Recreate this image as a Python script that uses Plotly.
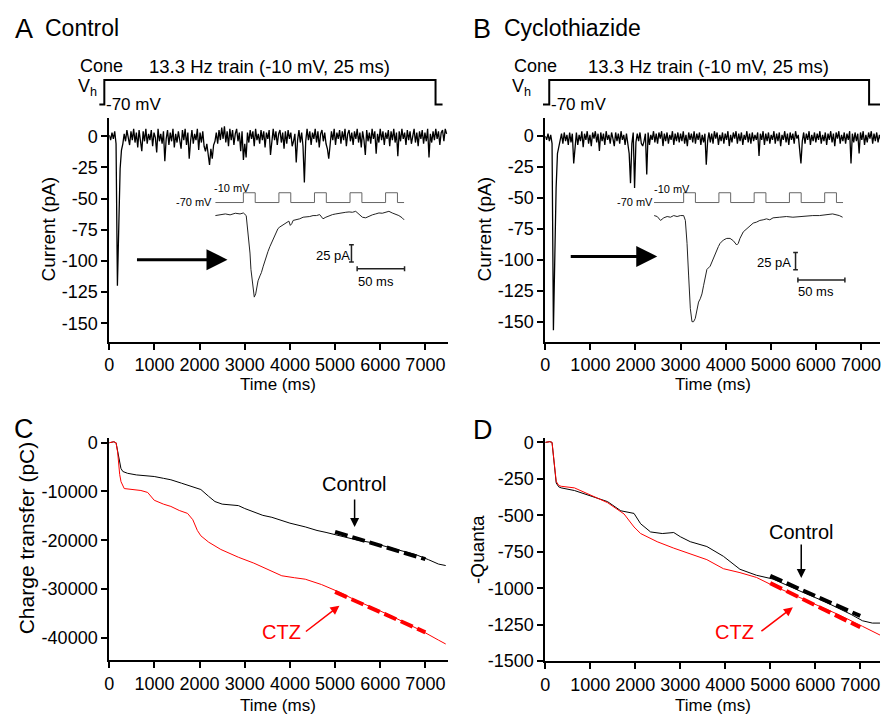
import plotly.graph_objects as go

W, H = 881, 726
FONT = "Liberation Sans, Arial, sans-serif"
RED = "#ff0000"

# ---------------- data ----------------
# A / B : current during the whole train (pA), one sample every 30 ms
dt_ms = 30
cur_ctrl = [1, -3, 3, -2, 4, -6, -120, -62, -26, -11,
            -6, 2, -4, 5, -1, -7, 4, -3, 6, -5,
            3, -9, 5, -2, -12, 4, -4, 6, -6, 2,
            -3, 5, -8, 3, -1, -13, 6, -4, 2, -6,
            4, -20, -2, 5, -7, 3, -4, 6, -9, 2,
            -5, 4, -2, -10, 5, -3, 6, -7, 3, -18,
            -4, 5, -6, 2, -3, 6, -11, 3, -5, 4,
            -8, -12, -6, -15, -23, -10, -18, -7, -4, 3,
            -6, 5, -3, 7, -2, 8, -5, 4, -8, 6,
            -3, 5, -7, 2, 6, -4, 3, -12, 4, -19,
            -6, -17, 3, -5, 5, -2, 4, -8, 6, -3,
            2, -6, 5, -3, 4, -9, 3, -2, 5, -15,
            -4, 6, -3, 4, -7, 2, 5, -5, 3, -10,
            4, -6, 5, -2, 3, -8, -4, 2, -21, -3,
            5, -5, 3, -8, -37, -4, 6, -3, 4, -7,
            3, -2, 6, -5, 4, -9, 2, 5, -4, 3,
            -6, -10, -18, -5, 4, -3, 6, -7, 3, -2,
            5, -6, 4, -3, 6, -8, 2, 5, -4, 3,
            -7, 4, -2, 6, -5, 3, -9, 4, -3, -15,
            5, -4, 3, -6, 6, -2, 4, -14, 2, -5,
            6, -3, 4, -7, 3, -2, 5, -8, 4, -3,
            6, -5, 3, -16, 4, -4, 6, -2, 3, -7,
            5, -3, 4, -6, 2, 6, -5, 3, -8, 4,
            -2, 5, -6, 3, -4, 6, -17, 2, -5, 4,
            -3, 6, -2, 4, -7, 3, 5, -4, 6, 2]
cur_ctz = [0, -3, 2, -4, 1, -6, -157, -95, -42, -14,
           -8, -5, 2, -6, 3, -4, 1, -7, 3, -5,
           2, -22, -5, 3, -7, 1, -4, 4, -9, 2,
           -3, 4, -6, 1, -8, 3, -2, 4, -5, 2,
           -12, 3, -4, 2, -7, 4, -3, 1, -6, 3,
           -2, -8, 3, -4, 2, -6, 4, -3, 1, -7,
           2, -5, -14, -38, -6, 3, -42, -5, 2, -4,
           3, -6, -8, -4, 2, -31, 3, -7, 1, -3,
           4, -5, 2, -6, 3, -2, 4, -8, 2, -4,
           3, -6, 1, -3, 4, -7, 2, -4, 3, -5,
           2, -4, 4, -6, 1, -8, 3, -3, 2, -5,
           4, -6, 2, -3, 3, -7, 1, -5, 2, -23,
           -4, 3, -5, 2, -6, 4, -2, 3, -7, 1,
           -4, 3, -6, 2, -3, 4, -8, 1, -5, 3,
           -2, 4, -6, 2, -4, 3, -7, 1, -3, 4,
           -5, 2, -6, 3, -4, 1, -3, 3, -16, 2,
           -3, 4, -7, 2, -4, 3, -6, 1, -3, 4,
           -6, 2, -4, 3, -8, 1, -3, 4, -5, 2,
           -7, 3, -3, 2, -6, 4, -2, 1, -8, -22,
           -4, 3, -6, 2, -3, 4, -7, 1, -4, 3,
           -5, 2, -3, 4, -6, 1, -4, 3, -7, 2,
           -3, 4, -5, 2, -8, 3, -2, 4, -6, 1,
           -4, 3, -6, 2, -3, 4, -22, 2, -5, 3,
           -4, 2, -14, 3, -3, 4, -7, 1, -5, 3,
           -2, 4, -6, 2, -4, 3, -5, 1, -3, 2]
t_ctrl = [i * dt_ms for i in range(len(cur_ctrl))]
t_ctz = [i * dt_ms for i in range(len(cur_ctz))]

# cone holding potential protocol (mV)
proto_mv = [-70, -70, -10, -10, -70, -70]
proto_t_A = [-220, -110, -110, 7225, 7225, 7380]
proto_t_B = [-51, 88, 88, 7181, 7181, 7423]

# insets: first pulses of the train (ms) and the current they evoke (pA)
pulse_mv = [-70, -70, -10, -10, -70, -70, -10, -10, -70, -70, -10,
            -10, -70, -70, -10, -10, -70, -70, -10, -10, -70, -70]
pulse_t_A = [-59, 0, 0, 25, 25, 75, 75, 100, 100, 150, 150,
             175, 175, 225, 225, 250, 250, 300, 300, 325, 325, 339]
pulse_t_B = [-63, 0, 0, 25, 25, 75, 75, 100, 100, 150, 150,
             175, 175, 225, 225, 250, 250, 300, 300, 325, 325, 339]

insA_t = [-59, -49, -38, -28, -17, -7, 0, 6, 8, 11, 14, 16, 19, 21, 23, 26, 28, 31,
          35, 38, 42, 45, 49, 52, 56, 59, 63, 66, 70, 73, 77, 84, 91, 96, 99, 102,
          105, 112, 119, 126, 133, 140, 147, 154, 161, 168, 174, 181, 188, 195, 202,
          209, 216, 223, 230, 237, 244, 251, 258, 265, 272, 279, 286, 293, 300, 307,
          314, 321, 328, 335, 339]
insA_pa = [-2.4, -1, 0, -1.4, 1, 0, 1.4, -2.4, -14.3, -33.3, -57.1, -81, -102.4,
           -116.6, -121.4, -116.6, -107, -97.6, -90.4, -85.7, -76.2, -69, -62.8,
           -54.7, -47.6, -42.8, -38, -31, -26.2, -21.4, -19, -15.7, -13.3, -10.5,
           -16.7, -14.3, -9.5, -8.6, -7.1, -4.8, -4.8, -3.8, -2.4, -2.4, -1, -7.1,
           -4.8, -2.4, -1, 0, 1, 1.4, 2.4, 2.9, 2.4, 3.8, 0, -4.8, -5.7, -3.3, -1.4,
           0, 1.4, 1, 2.4, 3.8, 1.4, 0, -2.4, -5.7, -8.6]
insB_t = [-62.7, -56.2, -49.2, -42.3, -35.1, -28.1, -21.1, -13.9, -7, 0, 3.6, 7.2,
          10.6, 14.2, 17.7, 21.1, 24.7, 28.3, 31.7, 35.3, 38.9, 42.3, 45.8, 49.4,
          56.4, 63.4, 67, 70.6, 73.9, 77.5, 81.1, 84.5, 91.7, 98.7, 105.6, 109.2,
          112.8, 116.2, 119.8, 126.8, 134, 140.9, 147.9, 155.1, 162.1, 169.1, 176.2,
          183.2, 190.2, 204.3, 218.5, 232.4, 246.6, 260.7, 274.7, 288.8, 302.9,
          316.9, 331.1, 338.1]
insB_pa = [0, -1.4, -7.1, -3.3, -1.4, -2.4, 0, -1.4, 0, 0, -7.1, -40.5, -88.1,
           -135.7, -154.8, -154.8, -150, -135.7, -126.2, -121.4, -114.3, -102.4,
           -88.1, -78.6, -73.8, -61.9, -54.8, -50, -45.2, -40.5, -38.1, -35.7, -33.3,
           -33.3, -36.7, -40.5, -42.9, -40.5, -33.3, -23.8, -19, -14.3, -11, -9.5,
           -7.1, -6.2, -4.8, -6.2, -3.3, -2.4, -1.4, -2.4, -1.4, 0, 0, 0, 1.4, 2.4,
           0, -2.4]

# C : cumulative charge transfer (pC)
qC_t_ctrl = [0, 100, 150, 180, 220, 258, 300, 405, 600, 800, 995, 1200, 1364, 1600,
             1800, 2028, 2200, 2340, 2500, 2700, 2860, 3000, 3230, 3400, 3600, 3800,
             4000, 4340, 4600, 4800, 5080, 5300, 5500, 5810, 6100, 6300, 6550, 6800,
             7070, 7290, 7450]
qC_ctrl = [0, 200, 0, -1500, -4000, -5270, -5900, -6270, -6600, -6800, -6930, -7300,
           -7600, -8300, -8900, -9600, -11000, -12070, -12600, -12800, -12900, -13500,
           -14400, -14900, -15300, -15900, -16500, -17270, -18000, -18400, -19100,
           -19600, -20000, -20500, -21200, -21800, -22300, -23000, -24000, -24900,
           -25200]
qC_t_ctz = [0, 100, 150, 185, 230, 260, 331, 500, 700, 850, 995, 1200, 1364, 1550,
            1733, 1850, 1950, 2028, 2200, 2470, 2860, 3200, 3600, 3820, 4100, 4340,
            4700, 5080, 5450, 5800, 6190, 6500, 6920, 7290, 7450]
qC_ctz = [0, 200, 0, -1930, -6500, -8000, -9400, -9600, -9800, -10200, -11800,
          -12600, -13070, -13900, -14500, -15800, -18000, -19100, -20400, -21900,
          -23500, -24700, -26400, -27300, -27700, -28000, -29100, -30600, -32300,
          -33700, -35300, -36700, -38600, -40500, -41300]

# D : cumulative quanta (negative)
qD_t_ctrl = [0, 100, 150, 206, 243, 300, 353, 648, 1015, 1383, 1678, 1972, 2119,
             2340, 2600, 2855, 3002, 3223, 3591, 3959, 4327, 4694, 5062, 5400, 5798,
             6200, 6534, 6800, 7050, 7270, 7440]
qD_ctrl = [0, 5, 0, -156, -279, -305, -312, -330, -368, -406, -469, -487, -558, -614,
           -625, -618, -647, -681, -714, -781, -870, -911, -937, -985, -1038, -1090,
           -1138, -1180, -1223, -1239, -1239]
qD_t_ctz = [0, 100, 150, 200, 243, 300, 353, 648, 1015, 1383, 1751, 1972, 2119, 2487,
            2855, 3591, 3959, 4327, 4694, 5062, 5798, 6534, 7050, 7440]
qD_ctz = [0, 5, 0, -140, -268, -295, -301, -312, -360, -413, -491, -580, -625, -681,
          -725, -804, -866, -893, -926, -982, -1083, -1183, -1261, -1321]

# linear fits, 5000-7000 ms
fit_t = [5000, 7000]
fitC_ctrl = [-18300, -23900]
fitC_ctz = [-30600, -38900]
fitD_ctrl = [-915, -1190]
fitD_ctz = [-965, -1268]

time_ticks = [0, 1000, 2000, 3000, 4000, 5000, 6000, 7000]
cur_ticks = [0, -25, -50, -75, -100, -125, -150]
charge_ticks = [0, -10000, -20000, -30000, -40000]
quanta_ticks = [0, -250, -500, -750, -1000, -1250, -1500]

# scale bars of the insets (bar lengths in inset units)
bar_pa = 25
bar_t = 100


def px(x):
    return x / W


def py(y):
    return 1 - y / H


def scalebar(t0, pa_top, t_h, pa_h):
    xs = [t0 - 5, t0 + 5, None, t0, t0, None, t0 - 5, t0 + 5, None,
          t_h, t_h + bar_t, None, t_h, t_h, None, t_h + bar_t, t_h + bar_t]
    ys = [pa_top, pa_top, None, pa_top, pa_top - bar_pa, None,
          pa_top - bar_pa, pa_top - bar_pa, None,
          pa_h, pa_h, None, pa_h + 3.5, pa_h - 3.5, None, pa_h + 3.5, pa_h - 3.5]
    return xs, ys


fig = go.Figure()

def line(x, y, xa, ya, color="black", width=1, dash=None):
    fig.add_trace(go.Scatter(x=x, y=y, xaxis=xa, yaxis=ya, mode="lines",
                             line=dict(color=color, width=width, dash=dash),
                             hoverinfo="skip", showlegend=False))

# A, B main traces
line(t_ctrl, cur_ctrl, "x", "y", width=1.3)
line(t_ctz, cur_ctz, "x2", "y2", width=1.3)
# C
line(qC_t_ctrl, qC_ctrl, "x3", "y3")
line(qC_t_ctz, qC_ctz, "x3", "y3", color=RED)
line(fit_t, fitC_ctrl, "x3", "y3", width=4, dash="13px,5px")
line(fit_t, fitC_ctz, "x3", "y3", color=RED, width=4, dash="13px,5px")
# D
line(qD_t_ctrl, qD_ctrl, "x4", "y4")
line(qD_t_ctz, qD_ctz, "x4", "y4", color=RED)
line(fit_t, fitD_ctrl, "x4", "y4", width=4, dash="13px,5px")
line(fit_t, fitD_ctz, "x4", "y4", color=RED, width=4, dash="13px,5px")
# voltage protocols
line(proto_t_A, proto_mv, "x5", "y5", width=2)
line(proto_t_B, proto_mv, "x6", "y6", width=2)
# insets
line(pulse_t_A, pulse_mv, "x7", "y8", color="#666666")
line(insA_t, insA_pa, "x7", "y7", color="#222222")
sx, sy = scalebar(228, -45, 240, -80)
line(sx, sy, "x7", "y7", color="#222222", width=1.5)
line(pulse_t_B, pulse_mv, "x9", "y10", color="#666666")
line(insB_t, insB_pa, "x9", "y9", color="#222222")
sx, sy = scalebar(238, -54, 243, -94)
line(sx, sy, "x9", "y9", color="#222222", width=1.5)

ax_style = dict(showline=True, linecolor="black", linewidth=2, ticks="outside",
                ticklen=6, tickwidth=2, tickcolor="black", showgrid=False,
                zeroline=False, ticklabeloverflow="allow",
                tickfont=dict(size=18, color="black", family=FONT))
hidden = dict(visible=False, showgrid=False, zeroline=False)

def ticks(vals):
    return dict(tickvals=vals, ticktext=[str(v) for v in vals])

dom_xL = [px(105), px(446)]
dom_xR = [px(544), 1.0]
dom_yTop = [py(344), py(115)]

fig.update_layout(
    width=W, height=H, margin=dict(l=0, r=0, t=0, b=0),
    paper_bgcolor="white", plot_bgcolor="rgba(0,0,0,0)",
    font=dict(family=FONT, color="black"),
    showlegend=False,
    xaxis=dict(ax_style, domain=dom_xL, range=[0, 7500], anchor="y", **ticks(time_ticks)),
    yaxis=dict(ax_style, domain=dom_yTop, range=[-165, 15], anchor="x", **ticks(cur_ticks)),
    xaxis2=dict(ax_style, domain=dom_xR, range=[0, 7423], anchor="y2", **ticks(time_ticks)),
    yaxis2=dict(ax_style, domain=dom_yTop, range=[-166.4, 15], anchor="x2", **ticks(cur_ticks)),
    xaxis3=dict(ax_style, domain=dom_xL, range=[0, 7500], anchor="y3", **ticks(time_ticks)),
    yaxis3=dict(ax_style, domain=[py(669), py(442)], range=[-44620, 1000], anchor="x3",
                **ticks(charge_ticks)),
    xaxis4=dict(ax_style, domain=dom_xR, range=[0, 7440], anchor="y4", **ticks(time_ticks)),
    yaxis4=dict(ax_style, domain=[py(670), py(442)], range=[-1500, 31], anchor="x4",
                **ticks(quanta_ticks)),
    xaxis5=dict(hidden, domain=[px(94), px(446)], range=[-242, 7500], anchor="y5"),
    yaxis5=dict(hidden, domain=[py(108), py(70)], range=[-85.1, 6.1], anchor="x5"),
    xaxis6=dict(hidden, domain=[px(532), 1.0], range=[-264, 7423], anchor="y6"),
    yaxis6=dict(hidden, domain=[py(108), py(70)], range=[-85.1, 6.1], anchor="x6"),
    xaxis7=dict(hidden, domain=[px(200), px(420)], range=[-83.8, 377.1], anchor="y7"),
    yaxis7=dict(hidden, domain=[py(305), py(205)], range=[-131, 11.9], anchor="x7"),
    yaxis8=dict(hidden, domain=[py(206.7), py(186.7)], range=[-100, 20], anchor="x7"),
    xaxis9=dict(hidden, domain=[px(640), px(860)], range=[-91.5, 373.3], anchor="y9"),
    yaxis9=dict(hidden, domain=[py(335), py(205)], range=[-171.4, 14.3], anchor="x9"),
    yaxis10=dict(hidden, domain=[py(206.7), py(186.7)], range=[-100, 20], anchor="x9"),
)

# ---------------- text ----------------
def txt(x, y, s, size, anchor="left", color="black", angle=0):
    fig.add_annotation(x=px(x), y=py(y), xref="paper", yref="paper", text=s,
                       showarrow=False, xanchor=anchor, yanchor="middle",
                       textangle=angle, font=dict(size=size, color=color, family=FONT))

def arrow(x, y, ax, ay, color="black", width=1.5, size=1.2):
    fig.add_annotation(x=px(x), y=py(y), xref="paper", yref="paper", text="",
                       showarrow=True, ax=ax, ay=ay, axref="pixel", ayref="pixel",
                       arrowhead=2, arrowwidth=width, arrowsize=size, arrowcolor=color)

# panel letters / titles
txt(8, 25, "A", 27)
txt(38, 23, "Control", 23)
txt(469, 25, "B", 27)
txt(500, 23, "Cyclothiazide", 23)
txt(7, 433, "C", 27)
txt(469, 434, "D", 27)

# protocols
for x0, xt, xm in [(73, 143, 100), (510, 585, 548)]:
    txt(x0, 62, "Cone", 18)
    txt(x0 - 2, 84, "V<sub>h</sub>", 18)
    txt(xt, 63, "13.3 Hz train (-10 mV, 25 ms)", 18.5)
    txt(xm, 102, "-70 mV", 17)

# inset labels
txt(208, 187, "-10 mV", 11)
txt(210, 201.5, "-70 mV", 11, anchor="right")
txt(349, 256, "25 pA", 13, anchor="right")
txt(353, 282, "50 ms", 13)
txt(651, 187.5, "-10 mV", 11)
txt(654, 201, "-70 mV", 11, anchor="right")
txt(793, 263, "25 pA", 13, anchor="right")
txt(796, 292.5, "50 ms", 13)

# axis titles
txt(275, 388, "Time (ms)", 17, anchor="center")
txt(713, 388, "Time (ms)", 17, anchor="center")
txt(275, 715, "Time (ms)", 17, anchor="center")
txt(713, 715, "Time (ms)", 17, anchor="center")
txt(43.5, 229, "Current (pA)", 19, anchor="center", angle=-90)
txt(482.5, 229, "Current (pA)", 19, anchor="center", angle=-90)
txt(21.7, 544, "Charge transfer (pC)", 21, anchor="center", angle=-90)
txt(475.7, 556, "-Quanta", 19, anchor="center", angle=-90)

# arrows
arrow(224, 260, -92, 0, width=3, size=1.4)
arrow(656.7, 256.7, -88, 0, width=3, size=1.4)
txt(351, 489, "Control", 20, anchor="center")
arrow(352, 533, 0, -29)
txt(278, 640, "CTZ", 20, anchor="center", color=RED)
arrow(336.7, 613.3, -35, 27, color=RED)
txt(801, 538, "Control", 20, anchor="center")
arrow(801.7, 585, 0, -35)
txt(735, 640, "CTZ", 20, anchor="center", color=RED)
arrow(793.3, 615, -33, 25, color=RED)

fig.write_html("out.html", config={"displayModeBar": False},
               post_script="document.body.style.margin='0px';")
